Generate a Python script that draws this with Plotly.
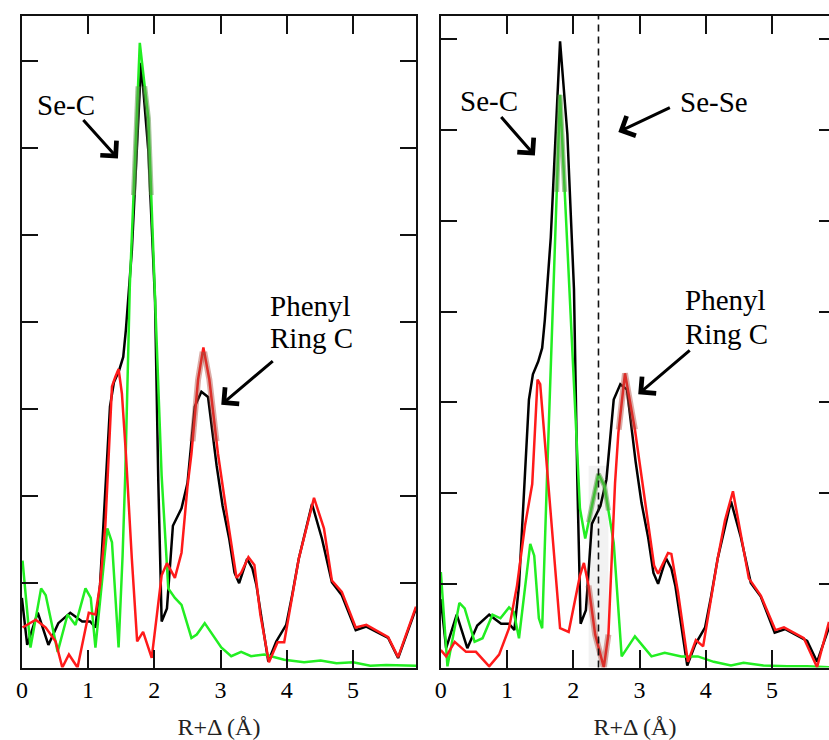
import plotly.graph_objects as go

# ---------------- data: |FT| vs R+Delta (Angstrom) ----------------
# experimental transform (black) - identical in both panels
R_EXP = [0.00, 0.08, 0.24, 0.40, 0.55, 0.73, 0.91, 1.03, 1.11, 1.18, 1.23, 1.28, 1.33,
         1.39, 1.47, 1.53, 1.57, 1.66, 1.80, 1.91, 2.01, 2.06, 2.11, 2.19, 2.28, 2.41,
         2.50, 2.61, 2.71, 2.81, 2.94, 3.03, 3.13, 3.21, 3.28, 3.40, 3.48, 3.54, 3.63,
         3.72, 3.84, 3.99, 4.08, 4.18, 4.38, 4.53, 4.68, 4.83, 5.04, 5.20, 5.53, 5.68, 5.95]
FT_EXP = [0.83, 0.29, 0.66, 0.29, 0.54, 0.66, 0.56, 0.56, 0.49, 0.98, 1.66, 2.35, 3.03,
          3.31, 3.45, 3.60, 3.91, 4.82, 6.98, 5.96, 4.25, 2.15, 0.56, 0.71, 1.66, 1.86,
          2.15, 3.03, 3.20, 3.14, 2.35, 1.89, 1.51, 1.12, 1.00, 1.28, 1.17, 0.98, 0.52,
          0.10, 0.33, 0.52, 0.86, 1.28, 1.91, 1.51, 1.01, 0.86, 0.46, 0.50, 0.37, 0.14, 0.71]

# model 1 (left panel): Se-C shell (green) and remaining signal (red)
R_SEC_1 = [0.01, 0.13, 0.29, 0.36, 0.54, 0.69, 0.81, 0.96, 1.04, 1.11, 1.29, 1.36, 1.46,
           1.52, 1.56, 1.63, 1.78, 1.91, 2.11, 2.18, 2.21, 2.31, 2.41, 2.56, 2.64, 2.76,
           2.91, 3.01, 3.16, 3.31, 3.46, 3.66, 3.96, 4.26, 4.51, 4.75, 5.00, 5.26, 5.50, 5.95]
FT_SEC_1 = [1.26, 0.26, 0.94, 0.86, 0.21, 0.64, 0.52, 0.94, 0.83, 0.26, 1.63, 1.47, 0.26,
            1.31, 2.23, 4.43, 7.21, 6.34, 2.23, 1.26, 0.94, 0.83, 0.75, 0.37, 0.41, 0.54,
            0.37, 0.26, 0.16, 0.21, 0.16, 0.18, 0.12, 0.09, 0.11, 0.08, 0.09, 0.05, 0.06, 0.05]
R_REST_1 = [0.01, 0.21, 0.36, 0.51, 0.61, 0.71, 0.84, 1.01, 1.11, 1.18, 1.26, 1.36, 1.41,
            1.46, 1.51, 1.57, 1.66, 1.74, 1.83, 1.96, 2.11, 2.19, 2.31, 2.41, 2.50, 2.56,
            2.66, 2.74, 2.83, 2.96, 3.09, 3.24, 3.31, 3.42, 3.51, 3.60, 3.73, 3.86, 3.96,
            4.08, 4.18, 4.41, 4.56, 4.68, 4.83, 5.04, 5.20, 5.53, 5.68, 5.95]
FT_REST_1 = [0.49, 0.58, 0.49, 0.33, 0.03, 0.18, 0.03, 0.66, 0.64, 0.98, 1.66, 3.26, 3.37,
             3.46, 3.18, 2.49, 1.28, 0.33, 0.44, 0.14, 1.09, 1.23, 1.06, 1.35, 2.11, 2.49,
             3.34, 3.71, 3.34, 2.49, 1.81, 1.06, 1.12, 1.30, 1.21, 0.64, 0.09, 0.32, 0.32,
             0.83, 1.28, 1.98, 1.63, 1.03, 0.90, 0.49, 0.52, 0.38, 0.15, 0.73]

# model 2 (right panel): Se-C shell (green) and remaining signal (red)
R_SEC_2 = [0.00, 0.10, 0.28, 0.36, 0.51, 0.63, 0.78, 0.90, 1.03, 1.10, 1.18, 1.35, 1.41,
           1.48, 1.53, 1.60, 1.80, 2.08, 2.10, 2.18, 2.25, 2.38, 2.47, 2.61, 2.73, 2.93,
           3.18, 3.38, 3.63, 3.88, 4.12, 4.38, 4.57, 4.87, 5.23, 5.53, 5.86]
FT_SEC_2 = [1.13, 0.09, 0.79, 0.73, 0.36, 0.40, 0.66, 0.62, 0.74, 0.69, 0.40, 1.44, 1.31,
            0.62, 0.51, 2.11, 6.39, 2.11, 1.83, 1.50, 1.75, 2.21, 2.08, 1.45, 0.20, 0.42,
            0.20, 0.24, 0.20, 0.20, 0.14, 0.10, 0.13, 0.10, 0.09, 0.09, 0.08]
R_REST_2 = [0.00, 0.08, 0.21, 0.38, 0.53, 0.73, 0.88, 1.03, 1.15, 1.27, 1.38, 1.46, 1.50,
            1.63, 1.73, 1.80, 1.93, 2.10, 2.16, 2.23, 2.33, 2.46, 2.53, 2.63, 2.68, 2.78,
            2.93, 3.03, 3.13, 3.22, 3.28, 3.43, 3.48, 3.58, 3.73, 3.85, 3.96, 4.18, 4.29,
            4.41, 4.65, 4.83, 5.05, 5.18, 5.48, 5.68, 5.86]
FT_REST_2 = [0.27, 0.20, 0.36, 0.25, 0.25, 0.09, 0.22, 0.51, 0.98, 1.64, 2.10, 3.25, 3.20,
             2.00, 1.09, 0.51, 0.47, 1.09, 1.23, 0.98, 0.44, 0.08, 0.44, 2.11, 2.66, 3.32,
             2.70, 2.19, 1.64, 1.20, 1.11, 1.34, 1.33, 0.91, 0.14, 0.38, 0.31, 1.28, 1.70,
             2.02, 1.06, 0.87, 0.49, 0.52, 0.40, 0.08, 0.58]

SE_SE_R = 2.38          # position of the expected Se-Se shell
X_TICKS = [0, 1, 2, 3, 4, 5]
X_LABEL = "R+Δ (Å)"

BLACK, RED, GREEN = "#000000", "#ff1a1a", "#22ee22"
SERIF = "Liberation Serif"


def clip_to_box(xs, ys, x0, x1, y0, y1):
    """Clip a polyline to a rectangle (Liang-Barsky), gaps as None."""
    ox, oy = [], []
    for i in range(len(xs) - 1):
        xa, ya, xb, yb = xs[i], ys[i], xs[i + 1], ys[i + 1]
        dx, dy = xb - xa, yb - ya
        t0, t1, ok = 0.0, 1.0, True
        for p, q in ((-dx, xa - x0), (dx, x1 - xa), (-dy, ya - y0), (dy, y1 - ya)):
            if p == 0:
                if q < 0:
                    ok = False
                    break
            else:
                t = q / p
                if p < 0:
                    t0 = max(t0, t)
                else:
                    t1 = min(t1, t)
        if not ok or t0 > t1:
            continue
        sx, sy, ex, ey = xa + t0 * dx, ya + t0 * dy, xa + t1 * dx, ya + t1 * dy
        if ox and ox[-1] is not None and abs(ox[-1] - sx) < 1e-9 and abs(oy[-1] - sy) < 1e-9:
            ox.append(ex)
            oy.append(ey)
        else:
            if ox:
                ox.append(None)
                oy.append(None)
            ox += [sx, ex]
            oy += [sy, ey]
    return ox, oy


fig = go.Figure()


def add_curve(xs, ys, color, xa, ya, width=2.5):
    fig.add_trace(go.Scatter(x=xs, y=ys, mode="lines", xaxis=xa, yaxis=ya,
                             line=dict(color=color, width=width), hoverinfo="skip"))


def add_glow(xs, ys, box, color, xa, ya, width=5):
    gx, gy = clip_to_box(xs, ys, *box)
    fig.add_trace(go.Scatter(x=gx, y=gy, mode="lines", xaxis=xa, yaxis=ya,
                             line=dict(color=color, width=width), hoverinfo="skip"))


GLOW_G = "rgba(95,150,75,0.55)"
GLOW_R = "rgba(175,70,60,0.45)"

# left panel
add_curve(R_EXP, FT_EXP, BLACK, "x", "y")
add_curve(R_SEC_1, FT_SEC_1, GREEN, "x", "y")
add_curve(R_REST_1, FT_REST_1, RED, "x", "y")
add_glow(R_SEC_1, FT_SEC_1, (1.5, 2.15, 5.46, 6.71), GLOW_G, "x", "y")
add_glow(R_REST_1, FT_REST_1, (2.5, 3.0, 2.63, 3.66), GLOW_R, "x", "y", 6)

# right panel
fig.add_shape(type="rect", xref="x2", yref="y2", x0=2.23, x1=2.53, y0=0.08, y1=2.3,
              fillcolor="rgba(0,0,0,0.05)", line=dict(width=0), layer="below")
add_curve(R_EXP, FT_EXP, BLACK, "x2", "y2")
add_curve(R_SEC_2, FT_SEC_2, GREEN, "x2", "y2")
add_curve(R_REST_2, FT_REST_2, RED, "x2", "y2")
add_glow(R_SEC_2, FT_SEC_2, (1.5, 2.1, 5.32, 6.52), GLOW_G, "x2", "y2")
add_glow(R_REST_2, FT_REST_2, (2.6, 3.0, 2.70, 3.40), GLOW_R, "x2", "y2", 6)
add_glow(R_SEC_2, FT_SEC_2, (2.23, 2.53, 0.0, 2.3), GLOW_G, "x2", "y2")
add_glow(R_REST_2, FT_REST_2, (2.23, 2.53, 0.0, 2.3), GLOW_R, "x2", "y2", 6)

fig.add_shape(type="line", xref="x2", yref="y2 domain", x0=SE_SE_R, x1=SE_SE_R, y0=0, y1=1,
              line=dict(color="#111111", width=1.6, dash="7px,5px"))

# text labels
labels = [
    ("x", "y", 0.20, 6.50, "Se-C"),
    ("x", "y", 3.71, 4.19, "Phenyl"),
    ("x", "y", 3.71, 3.82, "Ring C"),
    ("x2", "y2", 0.26, 6.32, "Se-C"),
    ("x2", "y2", 3.58, 6.31, "Se-Se"),
    ("x2", "y2", 3.65, 4.13, "Phenyl"),
    ("x2", "y2", 3.65, 3.75, "Ring C"),
]
for xr, yr, x, y, t in labels:
    fig.add_annotation(xref=xr, yref=yr, x=x, y=y, text=t, showarrow=False,
                       xanchor="left", yanchor="middle",
                       font=dict(family=SERIF, size=29, color="#000000"))

# arrows: tip position in data units, tail offset in pixels
arrows = [
    ("x", "y", 1.45, 5.88, -36, -40),
    ("x", "y", 3.01, 3.05, 53, -45),
    ("x2", "y2", 1.42, 5.72, -35, -40),
    ("x2", "y2", 2.68, 5.98, 53, -25),
    ("x2", "y2", 2.98, 3.09, 53, -45),
]
for xr, yr, x, y, ax, ay in arrows:
    fig.add_annotation(xref=xr, yref=yr, x=x, y=y, ax=ax, ay=ay, text="",
                       showarrow=True, arrowhead=4, arrowsize=1.4, arrowwidth=3,
                       arrowcolor="#000000")

W, H = 829, 740
LINE = "#111111"
axis_common = dict(showgrid=False, zeroline=False, showline=True, linecolor=LINE,
                   linewidth=2, ticks="inside", tickcolor=LINE, tickwidth=2)
xaxis_common = dict(axis_common, mirror="ticks", ticklen=18, tickvals=X_TICKS,
                    tickfont=dict(family=SERIF, size=24, color="#000000"),
                    title=dict(text=X_LABEL, standoff=20,
                               font=dict(family=SERIF, size=24, color="#222222")))
yaxis_common = dict(axis_common, ticklen=16, dtick=1, showticklabels=False)

ydom = [1 - 673 / H, 1 - 16 / H]
fig.update_layout(
    width=W, height=H, margin=dict(l=0, r=0, t=0, b=0),
    paper_bgcolor="white", plot_bgcolor="white", showlegend=False,
    xaxis=dict(xaxis_common, domain=[16 / W, 413 / W], range=[0, 5.95], anchor="y"),
    yaxis=dict(yaxis_common, mirror="ticks", domain=ydom, range=[0.03, 7.52], anchor="x"),
    xaxis2=dict(xaxis_common, domain=[438 / W, 1.0], range=[0, 5.86], anchor="y2"),
    yaxis2=dict(yaxis_common, domain=ydom, range=[0.077, 7.26], anchor="x2"),
    # right-hand ticks of the second panel (its frame edge lies past the page edge)
    yaxis3=dict(showgrid=False, zeroline=False, showline=False, ticks="inside",
                tickcolor=LINE, tickwidth=2, ticklen=10, dtick=1, showticklabels=False,
                overlaying="y2", side="right", anchor="x2", range=[0.077, 7.26]),
)
# a hidden trace keeps the extra tick axis active
fig.add_trace(go.Scatter(x=[None], y=[None], xaxis="x2", yaxis="y3", showlegend=False,
                         hoverinfo="skip"))

fig.write_html("out.html")
